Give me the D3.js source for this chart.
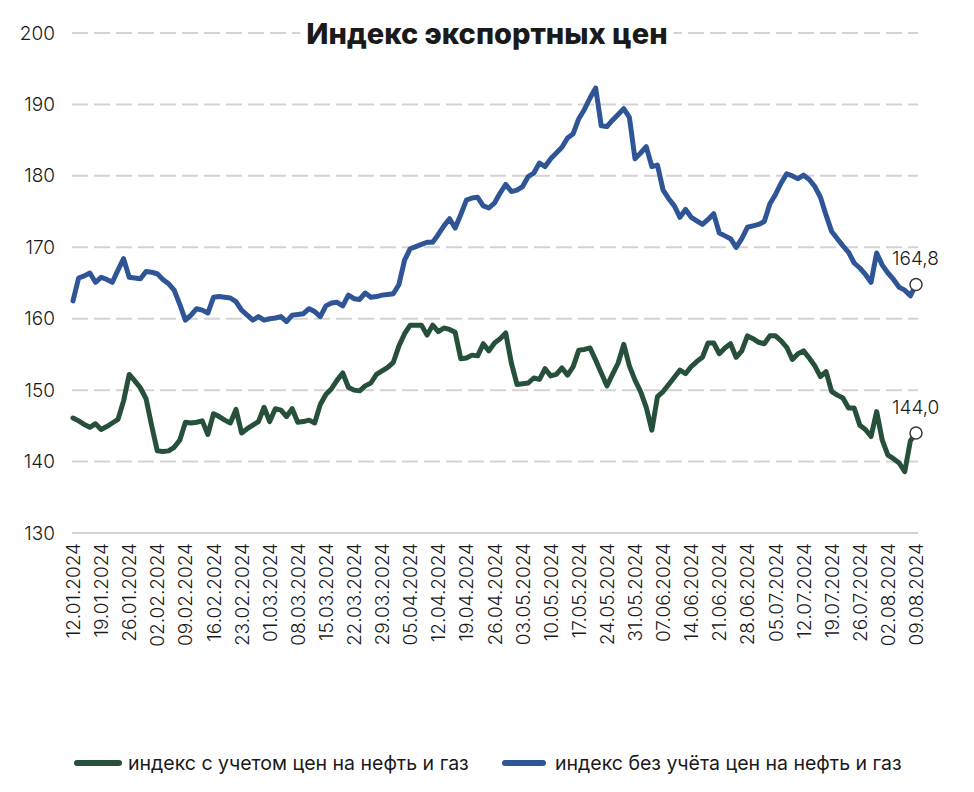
<!DOCTYPE html>
<html>
<head>
<meta charset="utf-8">
<script src="https://cdn.jsdelivr.net/npm/d3@7"></script>
<style>
  html, body { margin: 0; padding: 0; background: #fff; }
  svg { display: block; }
  text { font-family: Inter, "Noto Sans", sans-serif; fill: #1a1a1a; }
</style>
</head>
<body>
<svg id="chart" width="974" height="792"></svg>
<script>
// ---- data ----
const tickLabels = ["12.01.2024","19.01.2024","26.01.2024","02.02.2024","09.02.2024","16.02.2024","23.02.2024",
  "01.03.2024","08.03.2024","15.03.2024","22.03.2024","29.03.2024","05.04.2024","12.04.2024","19.04.2024",
  "26.04.2024","03.05.2024","10.05.2024","17.05.2024","24.05.2024","31.05.2024","07.06.2024","14.06.2024",
  "21.06.2024","28.06.2024","05.07.2024","12.07.2024","19.07.2024","26.07.2024","02.08.2024","09.08.2024"];

const seriesNames = ["индекс с учетом цен на нефть и газ", "индекс без учёта цен на нефть и газ"];

// business-day observations, 12.01.2024 ... 09.08.2024
const withOilGas = [
  146.1,145.7,145.2,144.8,145.3,144.5,144.9,145.4,145.9,148.5,
  152.2,151.3,150.3,148.8,145.0,141.5,141.4,141.5,142.0,143.0,
  145.5,145.4,145.5,145.7,143.8,146.7,146.3,145.8,145.4,147.3,
  144.0,144.6,145.1,145.6,147.6,145.6,147.4,147.2,146.3,147.4,
  145.5,145.6,145.8,145.4,148.0,149.4,150.2,151.4,152.4,150.4,
  150.0,149.9,150.6,151.0,152.2,152.7,153.2,153.9,156.2,157.9,
  159.1,159.1,159.1,157.7,159.1,158.2,158.7,158.5,158.1,154.4,
  154.5,154.9,154.8,156.5,155.5,156.6,157.2,158.0,153.8,150.8,
  150.9,151.0,151.7,151.5,153.0,152.0,152.2,153.1,152.1,153.3,
  155.6,155.7,155.9,154.2,152.4,150.6,152.2,153.8,156.4,153.4,
  151.4,149.8,147.6,144.4,149.1,149.8,150.8,151.8,152.8,152.3,
  153.3,154.0,154.6,156.6,156.6,155.1,155.9,156.5,154.6,155.5,
  157.6,157.2,156.7,156.5,157.6,157.6,156.9,156.0,154.3,155.1,
  155.5,154.5,153.4,151.9,152.6,149.8,149.3,148.9,147.5,147.5,
  145.1,144.5,143.5,147.0,143.0,140.9,140.4,139.8,138.6,142.9,
  144.0
];
const withoutOilGas = [
  162.5,165.7,166.0,166.4,165.1,165.8,165.5,165.1,166.8,168.4,
  165.8,165.7,165.6,166.6,166.5,166.3,165.5,164.9,164.0,162.0,
  159.8,160.5,161.4,161.2,160.8,163.0,163.1,163.0,162.9,162.4,
  161.2,160.5,159.8,160.3,159.8,160.0,160.1,160.3,159.6,160.5,
  160.6,160.7,161.4,161.0,160.3,161.8,162.2,162.3,161.8,163.3,
  162.8,162.7,163.6,163.0,163.1,163.3,163.4,163.5,164.8,168.2,
  169.8,170.1,170.4,170.7,170.7,171.8,173.0,174.0,172.7,174.6,
  176.6,176.9,177.0,175.8,175.5,176.2,177.6,178.8,177.8,178.0,
  178.5,179.9,180.4,181.8,181.3,182.4,183.2,184.0,185.3,185.9,
  188.0,189.3,190.9,192.3,187.0,186.9,187.8,188.6,189.4,188.2,
  182.4,183.2,184.1,181.3,181.5,178.0,176.8,175.8,174.2,175.3,
  174.2,173.7,173.2,173.9,174.7,172.0,171.6,171.2,170.0,171.2,
  172.8,173.0,173.2,173.6,176.1,177.4,179.0,180.3,180.0,179.6,
  180.1,179.5,178.5,177.0,174.5,172.2,171.2,170.2,169.3,167.8,
  167.1,166.2,165.1,169.2,167.5,166.4,165.5,164.4,164.0,163.2,
  164.8
];
const yTicks = [130,140,150,160,170,180,190,200];
const endLabels = ["144,0", "164,8"];

// ---- layout ----
const colors = ["#27503b", "#2f5597"];
const svg = d3.select("#chart");
const x = d3.scaleLinear().domain([0, withOilGas.length - 1]).range([73, 916]);
const y = d3.scaleLinear().domain([130, 200]).range([533, 33]);
const gridX0 = 72, gridX1 = 918;

// gridlines
svg.append("g").selectAll("line").data(yTicks).join("line")
  .attr("x1", gridX0).attr("x2", gridX1)
  .attr("y1", d => y(d)).attr("y2", d => y(d))
  .attr("stroke", "#d3d3d3").attr("stroke-width", 2)
  .attr("stroke-dasharray", d => d === 130 ? null : "16 6");

// y axis labels
const yAxis = d3.axisLeft(y).tickValues(yTicks).tickSize(0).tickPadding(0).tickFormat(d3.format("d"));
const gy = svg.append("g").attr("transform", "translate(55,0)").call(yAxis);
gy.select(".domain").remove();
gy.selectAll("text").attr("font-size", 19).attr("fill", "#1a1a1a")
  .style("font-family", "Inter, sans-serif").attr("font-weight", 300);

// x axis labels
const tickIdx = tickLabels.map((_, i) => i * 5);
const xAxis = d3.axisBottom(x).tickValues(tickIdx).tickSize(0).tickFormat((d, i) => tickLabels[i]);
const gx = svg.append("g").attr("transform", "translate(0,543)").call(xAxis);
gx.select(".domain").remove();
gx.selectAll("text")
  .attr("font-size", 19).attr("fill", "#1a1a1a").attr("font-weight", 300)
  .style("font-family", "Inter, sans-serif")
  .attr("text-anchor", "end")
  .attr("dy", null).attr("y", 0).attr("x", 0)
  .attr("dominant-baseline", "central")
  .attr("transform", "rotate(-90)");

// title with white background
const titleBg = svg.append("rect").attr("fill", "#fff");
const title = svg.append("text").attr("x", 487).attr("y", 33)
  .attr("text-anchor", "middle").attr("dominant-baseline", "central")
  .attr("font-size", 29).attr("font-weight", 800)
  .text("Индекс экспортных цен");
const bb = title.node().getBBox();
titleBg.attr("x", bb.x - 6).attr("y", bb.y).attr("width", bb.width + 12).attr("height", bb.height);

// lines
const line = d3.line().x((d, i) => x(i)).y(d => y(d));
[withOilGas, withoutOilGas].forEach((s, k) => {
  svg.append("path").datum(s).attr("d", line)
    .attr("fill", "none").attr("stroke", colors[k]).attr("stroke-width", 5)
    .attr("stroke-linejoin", "round").attr("stroke-linecap", "round");
});

// end markers and labels
[withOilGas, withoutOilGas].forEach((s, k) => {
  const last = s.length - 1;
  svg.append("circle").attr("cx", x(last)).attr("cy", y(s[last])).attr("r", 6)
    .attr("fill", "#fff").attr("stroke", "#3a3a3a").attr("stroke-width", 1.5);
  svg.append("text").attr("x", x(last) - 24).attr("y", y(s[last]) - 26)
    .attr("dominant-baseline", "central").attr("font-size", 19).attr("font-weight", 300)
    .attr("fill", "#1a1a1a").text(endLabels[k]);
});

// legend
const legendItems = [{x1: 77, x2: 119, tx: 128}, {x1: 505, x2: 543, tx: 555}];
legendItems.forEach((it, k) => {
  svg.append("line").attr("x1", it.x1).attr("x2", it.x2).attr("y1", 763).attr("y2", 763)
    .attr("stroke", colors[k]).attr("stroke-width", 6).attr("stroke-linecap", "round");
  svg.append("text").attr("x", it.tx).attr("y", 763).attr("dominant-baseline", "central")
    .attr("font-size", 19.5).attr("fill", "#1a1a1a").text(seriesNames[k]);
});
</script>
</body>
</html>
